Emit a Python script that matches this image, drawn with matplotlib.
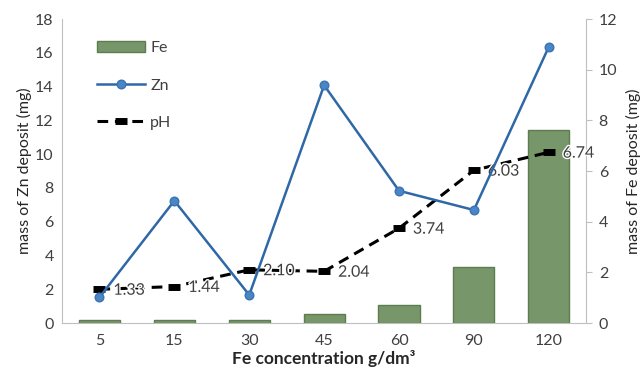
import matplotlib
matplotlib.use("Agg")
import matplotlib.pyplot as plt
import matplotlib.patheffects as pe
import numpy as np

plt.rcParams['font.family'] = ['Lato', 'DejaVu Sans']

categories = ["5", "15", "30", "45", "60", "90", "120"]
fe_mass = [0.1, 0.13, 0.13, 0.36, 0.7, 2.2, 7.6]
zn_mass = [1.52, 7.24, 1.66, 14.08, 7.83, 6.69, 16.35]
ph_values = [1.33, 1.44, 2.10, 2.04, 3.74, 6.03, 6.74]

fig = plt.figure(figsize=(6.44, 3.73), dpi=100)
ax = fig.add_axes([0.0963, 0.134, 0.814, 0.815])
ax2 = ax.twinx()
ax.set_zorder(ax2.get_zorder() + 1)
ax.patch.set_visible(False)

x = np.arange(len(categories))
bars = ax2.bar(x, fe_mass, width=0.55, color='#77966a', edgecolor='#5d7d4e', linewidth=1.0, label='Fe')
ph_line, = ax2.plot(x, ph_values, color='black', linestyle=(0, (3.5, 2.2)), linewidth=2.2,
                    marker='_', markersize=9, markeredgewidth=5, label='pH')
zn_line, = ax.plot(x, zn_mass, color='#2f68a6', linewidth=1.8, marker='o', markersize=6.2,
                   markerfacecolor='#4a86c5', markeredgecolor='#3a74b2', label='Zn')

for xi, v in zip(x, ph_values):
    ax2.annotate(f"{v:.2f}", (xi, v), xytext=(10, -1), textcoords='offset points',
                 ha='left', va='center', fontsize=11.5, color='#404040',
                 path_effects=[pe.withStroke(linewidth=2, foreground='white')])

ax.set_xlim(-0.5, len(categories) - 0.5)
ax.set_ylim(0, 18)
ax.set_yticks(np.arange(0, 19, 2))
ax2.set_ylim(0, 12)
ax2.set_yticks(np.arange(0, 13, 2))
ax.set_xticks(x)
ax.set_xticklabels(categories)

for a in (ax, ax2):
    a.spines['top'].set_visible(False)
    a.tick_params(labelsize=11.5, colors='#404040', length=4, width=0.8)
    a.tick_params(axis='y', color='#bfbfbf')
ax.spines['left'].set_color('#bfbfbf')
ax.spines['right'].set_visible(False)
ax2.spines['left'].set_visible(False)
ax2.spines['right'].set_color('#bfbfbf')
ax.spines['bottom'].set_color('#bfbfbf')
ax2.spines['bottom'].set_visible(False)
ax.tick_params(axis='x', length=0, pad=8)
ax.tick_params(axis='y', length=0, pad=6)
ax2.tick_params(axis='y', pad=5)

ax.set_ylabel('mass of Zn deposit (mg)', fontsize=11.5, color='#262626', labelpad=2)
ax2.set_ylabel('mass of Fe deposit (mg)', fontsize=11.5, color='#262626', labelpad=6)
ax.set_xlabel('Fe concentration g/dm³', fontsize=12.5, color='#262626', fontweight='bold', labelpad=1)

leg = ax.legend([bars, zn_line, ph_line], ['Fe', 'Zn', 'pH'], loc='upper left',
                bbox_to_anchor=(0.04, 0.975), frameon=False, fontsize=11.5,
                labelspacing=1.45, handlelength=3.0, handletextpad=0.3)
for t in leg.get_texts():
    t.set_color('#404040')

fig.savefig('out.png', dpi=100)
